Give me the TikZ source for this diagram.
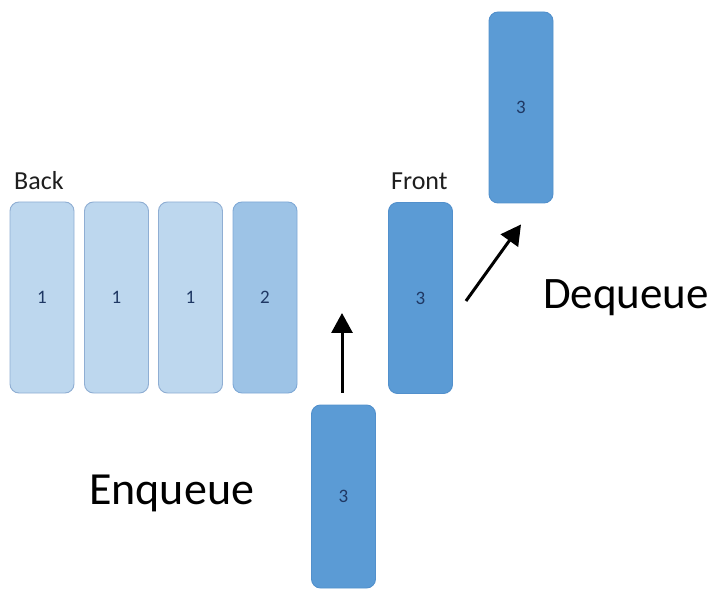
\documentclass[tikz,border=0pt]{standalone}
\usepackage{fontspec}
\setmainfont{Carlito}
\usetikzlibrary{arrows.meta}

\definecolor{qlight}{HTML}{BDD7EE}
\definecolor{qmid}{HTML}{9DC3E6}
\definecolor{qdark}{HTML}{5B9BD5}
\definecolor{qlightedge}{HTML}{8FAED3}
\definecolor{qmidedge}{HTML}{7FA9D6}
\definecolor{qdarkedge}{HTML}{5290CC}
\definecolor{qnum}{HTML}{1F3864}
\definecolor{qtext}{HTML}{1E1E1E}

\tikzset{
  qbox/.style={rectangle, rounded corners=9pt, minimum width=64pt,
    minimum height=191pt, line width=0.9pt, inner sep=0pt,
    text=qnum, font=\fontsize{19}{19}\selectfont},
  lightbox/.style={qbox, fill=qlight, draw=qlightedge},
  midbox/.style={qbox, fill=qmid, draw=qmidedge},
  darkbox/.style={qbox, fill=qdark, draw=qdarkedge},
  endlabel/.style={anchor=base west, inner sep=0pt, text=qtext,
    font=\fontsize{26}{26}\selectfont},
  oplabel/.style={anchor=base west, inner sep=0pt, text=black,
    font=\fontsize{45}{45}\selectfont},
  qarrow/.style={line width=3pt, -{Triangle[width=21pt,length=20pt]}}
}

\begin{document}
\begin{tikzpicture}[x=1pt,y=-1pt]
  \useasboundingbox (0,0) rectangle (720,593);

  % queue contents, back to front
  \node[lightbox] (b1) at (42,297.5) {1};
  \node[lightbox] (b2) at (116.5,297.5) {1};
  \node[lightbox] (b3) at (190.5,297.5) {1};
  \node[midbox]   (b4) at (265,297.5) {2};
  \node[darkbox]  (front) at (420.5,298) {3};

  % element leaving and element arriving
  \node[darkbox] (out) at (521,107.5) {3};
  \node[darkbox, minimum height=183pt] (in) at (343.5,496.5) {3};

  % end labels
  \node[endlabel] (back lbl) at (14,190) {Back};
  \node[endlabel] (front lbl) at (391,190) {Front};

  % operation labels
  \node[oplabel, font=\fontsize{46}{46}\selectfont] (enq) at (89,504) {Enqueue};
  \node[oplabel] (deq) at (543,309) {Dequeue};

  % arrows
  \coordinate (enqTip) at (342,313);
  \draw[qarrow] ([xshift=-1.5pt,yshift=12pt]in.north) -- (enqTip);
  \draw[qarrow] ([xshift=13pt,yshift=-3pt]front.east) -- ([yshift=-21pt]out.south);
\end{tikzpicture}
\end{document}
